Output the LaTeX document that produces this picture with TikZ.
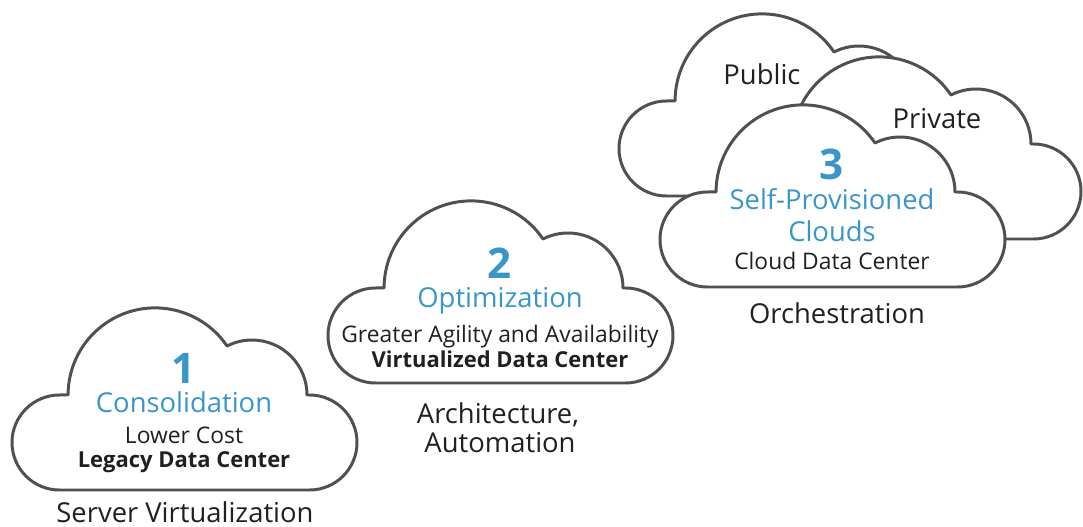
\documentclass[tikz,border=0pt]{standalone}
\usepackage{fontspec}
\setmainfont{Open Sans}
\usetikzlibrary{positioning}
\definecolor{cloudblue}{HTML}{3A96C8}
\definecolor{cloudgray}{HTML}{505050}
\definecolor{inkblack}{HTML}{231F20}
\tikzset{
    cloudline/.style = {draw=cloudgray,
                    fill=white,
                    line width=1.7pt,
                    line join=round},
    cloudshape/.pic = {
        \path[cloudline] (47.5,0) -- (297.5,0)
            arc[start angle=-90, end angle=90, radius=47.5]
            -- (295,95)
            arc[start angle=0, end angle=117, radius=55]
            arc[start angle=34.2, end angle=180, radius=87]
            -- (47.5,95)
            arc[start angle=90, end angle=270, radius=47.5]
            -- cycle;
    },
    stepnum/.style = {text=cloudblue,
                    font=\fontsize{24}{28}\selectfont\bfseries,
                    anchor=base,
                    inner sep=0pt},
    steptitle/.style = {text=cloudblue,
                    font=\fontsize{15.6}{18}\selectfont,
                    anchor=base,
                    inner sep=0pt},
    stepnote/.style = {text=inkblack,
                    font=\fontsize{13}{15}\selectfont,
                    anchor=base,
                    inner sep=0pt},
    stepbold/.style = {stepnote,
                    font=\fontsize{12.5}{15}\selectfont\bfseries},
    steplabel/.style = {text=inkblack,
                    font=\fontsize{15.6}{18}\selectfont,
                    anchor=base,
                    inner sep=0pt}}

\begin{document}
\begin{tikzpicture}[x=0.02cm,y=0.02cm]
    \useasboundingbox (0,0) rectangle (1083,-527);
    % clouds, back to front
    \pic at (619,-196) {cloudshape};
    \pic at (736,-239) {cloudshape};
    \pic at (660,-287) {cloudshape};
    \pic at (328,-383) {cloudshape};
    \pic at (12,-490)  {cloudshape};

    % step 1
    \node[stepnum]   (num1)   at (184,-383) {1};
    \node[steptitle] (title1) at (184,-412) {Consolidation};
    \node[stepnote]  (note1)  at (184,-443) {Lower Cost};
    \node[stepbold]  (kind1)  at (184,-467) {Legacy Data Center};
    \node[steplabel] (tech1)  at (185,-522) {Server Virtualization};

    % step 2
    \node[stepnum]   (num2)   at (500,-278) {2};
    \node[steptitle] (title2) at (500,-307) {Optimization};
    \node[stepnote]  (note2)  at (500,-342) {Greater Agility and Availability};
    \node[stepbold]  (kind2)  at (500,-367) {Virtualized Data Center};
    \node[steplabel] (tech2)  at (498,-423) {Architecture,};
    \node[steplabel] (tech2b) at (500,-452) {Automation};

    % step 3
    \node[steplabel] (public)  at (762,-85)  {Public};
    \node[steplabel] (private) at (937,-129) {Private};
    \node[stepnum]   (num3)   at (832,-180) {3};
    \node[steptitle] (title3) at (832,-210) {Self-Provisioned};
    \node[steptitle] (title3b) at (832,-241) {Clouds};
    \node[stepnote]  (kind3)  at (832,-270) {Cloud Data Center};
    \node[steplabel] (tech3)  at (837,-323) {Orchestration};
\end{tikzpicture}
\end{document}
